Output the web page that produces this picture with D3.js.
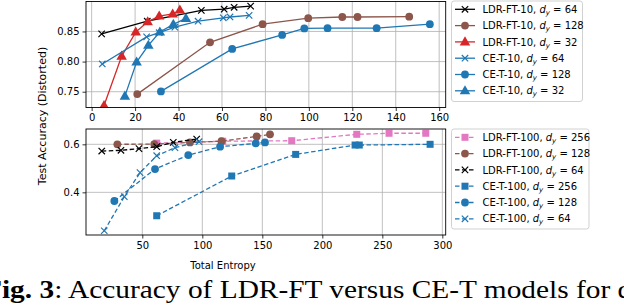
<!DOCTYPE html>
<html><head><meta charset="utf-8">
<script src="https://cdn.jsdelivr.net/npm/d3@7"></script>
<style>body{margin:0;background:#fff} text{font-family:"DejaVu Sans",sans-serif}</style>
</head><body><svg id="c" width="624" height="308" xmlns="http://www.w3.org/2000/svg"></svg>
<script>
// ---------- data ----------
const topXTicks = [0,20,40,60,80,100,120,140,160];
const topYTicks = [0.75,0.80,0.85];
const botXTicks = [50,100,150,200,250,300];
const botYTicks = [0.4,0.6];

const topLDR64X = [4.6,25.6,50.5,61,65.6,73.2];
const topLDR64Y = [0.846,0.867,0.885,0.887,0.890,0.892];
const topLDR128X = [21,54.5,78.7,99.7,115.4,122.4,146.2];
const topLDR128Y = [0.746,0.832,0.862,0.872,0.874,0.874,0.8745];
const topLDR32X = [5.7,13.8,20.3,25.8,31.1,37.3,40.6];
const topLDR32Y = [0.727,0.809,0.849,0.866,0.8755,0.879,0.8855];
const topCE64X = [4.9,25.3,31.1,38.3,49,60.6,63.7,72.5];
const topCE64Y = [0.796,0.841,0.848,0.857,0.867,0.8727,0.874,0.8767];
const topCE128X = [31.9,64.7,87.7,97.9,108.6,131.2,155.7];
const topCE128Y = [0.7505,0.821,0.8443,0.855,0.8555,0.8555,0.862];
const topCE32X = [15.3,20.7,26.1,31.4,37.6,43.4];
const topCE32Y = [0.7427,0.7993,0.827,0.849,0.8617,0.8717];

const botLDR256X = [62,117,174.5,228.7,255.6,286.2];
const botLDR256Y = [0.605,0.613,0.615,0.6417,0.646,0.646];
const botLDR128X = [29.2,60,89.7,116,145.3,156.4];
const botLDR128Y = [0.600,0.601,0.608,0.613,0.633,0.6417];
const botLDR64X = [16.2,32.2,47.2,62,75.8,95.3];
const botLDR64Y = [0.572,0.575,0.582,0.590,0.608,0.622];
const botCE256X = [62,124.5,177.8,227.3,230.8,289.8];
const botCE256Y = [0.3025,0.468,0.558,0.597,0.597,0.600];
const botCE128X = [26.7,60.6,88.3,114.8,144.5,152.2];
const botCE128Y = [0.364,0.497,0.555,0.59,0.604,0.608];
const botCE64X = [18.3,35,48.1,62,77.2,97.3];
const botCE64Y = [0.24,0.382,0.482,0.5525,0.586,0.611];

const C = {black:"#000000", brown:"#8c564b", red:"#d62728", blue:"#1f77b4", pink:"#e377c2"};

const topSeries = [
  {x:topLDR64X, y:topLDR64Y, color:C.black, marker:"x", pre:"LDR-FT-10, ", post:" = 64"},
  {x:topLDR128X, y:topLDR128Y, color:C.brown, marker:"o", pre:"LDR-FT-10, ", post:" = 128"},
  {x:topLDR32X, y:topLDR32Y, color:C.red, marker:"^", pre:"LDR-FT-10, ", post:" = 32"},
  {x:topCE64X, y:topCE64Y, color:C.blue, marker:"x", pre:"CE-T-10, ", post:" = 64"},
  {x:topCE128X, y:topCE128Y, color:C.blue, marker:"o", pre:"CE-T-10, ", post:" = 128"},
  {x:topCE32X, y:topCE32Y, color:C.blue, marker:"^", pre:"CE-T-10, ", post:" = 32"}
];
const botSeries = [
  {x:botLDR256X, y:botLDR256Y, color:C.pink, marker:"s", pre:"LDR-FT-100, ", post:" = 256"},
  {x:botLDR128X, y:botLDR128Y, color:C.brown, marker:"o", pre:"LDR-FT-100, ", post:" = 128"},
  {x:botLDR64X, y:botLDR64Y, color:C.black, marker:"x", pre:"LDR-FT-100, ", post:" = 64"},
  {x:botCE256X, y:botCE256Y, color:C.blue, marker:"s", pre:"CE-T-100, ", post:" = 256"},
  {x:botCE128X, y:botCE128Y, color:C.blue, marker:"o", pre:"CE-T-100, ", post:" = 128"},
  {x:botCE64X, y:botCE64Y, color:C.blue, marker:"x", pre:"CE-T-100, ", post:" = 64"}
];

// ---------- drawing ----------
const svg = d3.select("#c");
const L = 86, R = 445.7;

function drawMarker(g, type, cx, cy, color) {
  if (type === "o") {
    g.append("circle").attr("cx",cx).attr("cy",cy).attr("r",3.9).attr("fill",color);
  } else if (type === "^") {
    g.append("path").attr("d", d3.symbol(d3.symbolTriangle, 48)())
      .attr("transform",`translate(${cx},${cy+0.5})`).attr("fill",color);
  } else if (type === "s") {
    g.append("rect").attr("x",cx-3.5).attr("y",cy-3.5).attr("width",7).attr("height",7).attr("fill",color);
  } else if (type === "x") {
    const s = 3.2;
    g.append("path").attr("d",`M${cx-s},${cy-s}L${cx+s},${cy+s}M${cx-s},${cy+s}L${cx+s},${cy-s}`)
      .attr("stroke",color).attr("stroke-width",1.2).attr("fill","none");
  }
}

function panel(id, top, bottom, xDom, yDom, xTicks, yTicks, yFmt, series, dashed, legendTop, legendBottom, legendRight) {
  const x = d3.scaleLinear().domain(xDom).range([L, R]);
  const y = d3.scaleLinear().domain(yDom).range([bottom, top]);
  const g = svg.append("g");
  g.append("g").selectAll("line").data(xTicks).join("line")
    .attr("x1",d=>x(d)).attr("x2",d=>x(d)).attr("y1",top).attr("y2",bottom)
    .attr("stroke","#b0b0b0").attr("stroke-width",0.8);
  g.append("g").selectAll("line").data(yTicks).join("line")
    .attr("y1",d=>y(d)).attr("y2",d=>y(d)).attr("x1",L).attr("x2",R)
    .attr("stroke","#b0b0b0").attr("stroke-width",0.8);
  const xa = g.append("g").attr("transform",`translate(0,${bottom})`)
    .call(d3.axisBottom(x).tickValues(xTicks).tickSize(3.5).tickPadding(3).tickFormat(d3.format("d")));
  const ya = g.append("g").attr("transform",`translate(${L},0)`)
    .call(d3.axisLeft(y).tickValues(yTicks).tickSize(3.5).tickPadding(3).tickFormat(d3.format(yFmt)));
  [xa, ya].forEach(a => {
    a.select(".domain").remove();
    a.selectAll("text").attr("font-size",10).attr("fill","#000").style("font-family","DejaVu Sans");
    a.selectAll("line").attr("stroke","#000").attr("stroke-width",0.8);
  });
  svg.append("clipPath").attr("id",id).append("rect")
    .attr("x",L).attr("y",top).attr("width",R-L).attr("height",bottom-top);
  const pg = g.append("g").attr("clip-path",`url(#${id})`);
  const line = d3.line().x(d=>x(d[0])).y(d=>y(d[1]));
  series.forEach(s => {
    const pts = s.x.map((v,i)=>[v, s.y[i]]);
    pg.append("path").attr("d", line(pts)).attr("fill","none")
      .attr("stroke", s.color).attr("stroke-width",1.3)
      .attr("stroke-dasharray", dashed ? "4.5,2.5" : null);
    pts.forEach(p => drawMarker(pg, s.marker, x(p[0]), y(p[1]), s.color));
  });
  g.append("rect").attr("x",L).attr("y",top).attr("width",R-L).attr("height",bottom-top)
    .attr("fill","none").attr("stroke","#000").attr("stroke-width",0.9);
  const lg = svg.append("g");
  lg.append("rect").attr("x",451.5).attr("y",legendTop).attr("width",legendRight-451.5)
    .attr("height",legendBottom-legendTop).attr("rx",2.5).attr("fill","#fff")
    .attr("stroke","#cccccc").attr("stroke-width",0.9);
  series.forEach((s,i) => {
    const cy = legendTop + 8.3 + i*16.3;
    lg.append("line").attr("x1",455).attr("x2",475).attr("y1",cy).attr("y2",cy)
      .attr("stroke",s.color).attr("stroke-width",1.3)
      .attr("stroke-dasharray", dashed ? "4.5,2.5" : null);
    drawMarker(lg, s.marker, 465, cy, s.color);
    const t = lg.append("text").attr("x",482.5).attr("y",cy+3.6).attr("font-size",10).attr("fill","#000");
    t.append("tspan").text(s.pre);
    t.append("tspan").attr("font-style","italic").text("d");
    t.append("tspan").attr("font-style","italic").attr("font-size",7).attr("dy",2).text("y");
    t.append("tspan").attr("dy",-2).text(s.post);
  });
}

panel("clipTop", 1.5, 107.5, [-2.6,163], [0.7238,0.8997], topXTicks, topYTicks, ".2f", topSeries, false, 1, 101.5, 582.5);
panel("clipBot", 129, 235, [3.08,302.8], [0.2223,0.6638], botXTicks, botYTicks, ".1f", botSeries, true, 129, 229, 589);

svg.append("text").attr("transform","translate(46,116) rotate(-90)").attr("text-anchor","middle")
  .attr("font-size",11).attr("fill","#000").text("Test Accuracy (Distorted)");
svg.append("text").attr("x",223).attr("y",269).attr("text-anchor","middle")
  .attr("font-size",10).attr("fill","#000").text("Total Entropy");

// caption (left edge is cut off in the reference)
const cap = svg.append("g").attr("transform","translate(-16,298) scale(1.13,1)")
  .append("text").attr("x",0).attr("y",0).attr("font-size",26)
  .style("font-family","'Liberation Serif', serif").attr("fill","#000");
cap.append("tspan").attr("font-weight","bold").text("Fig. 3");
cap.append("tspan").text(":  Accuracy of LDR-FT versus CE-T models for different");
</script></body></html>
